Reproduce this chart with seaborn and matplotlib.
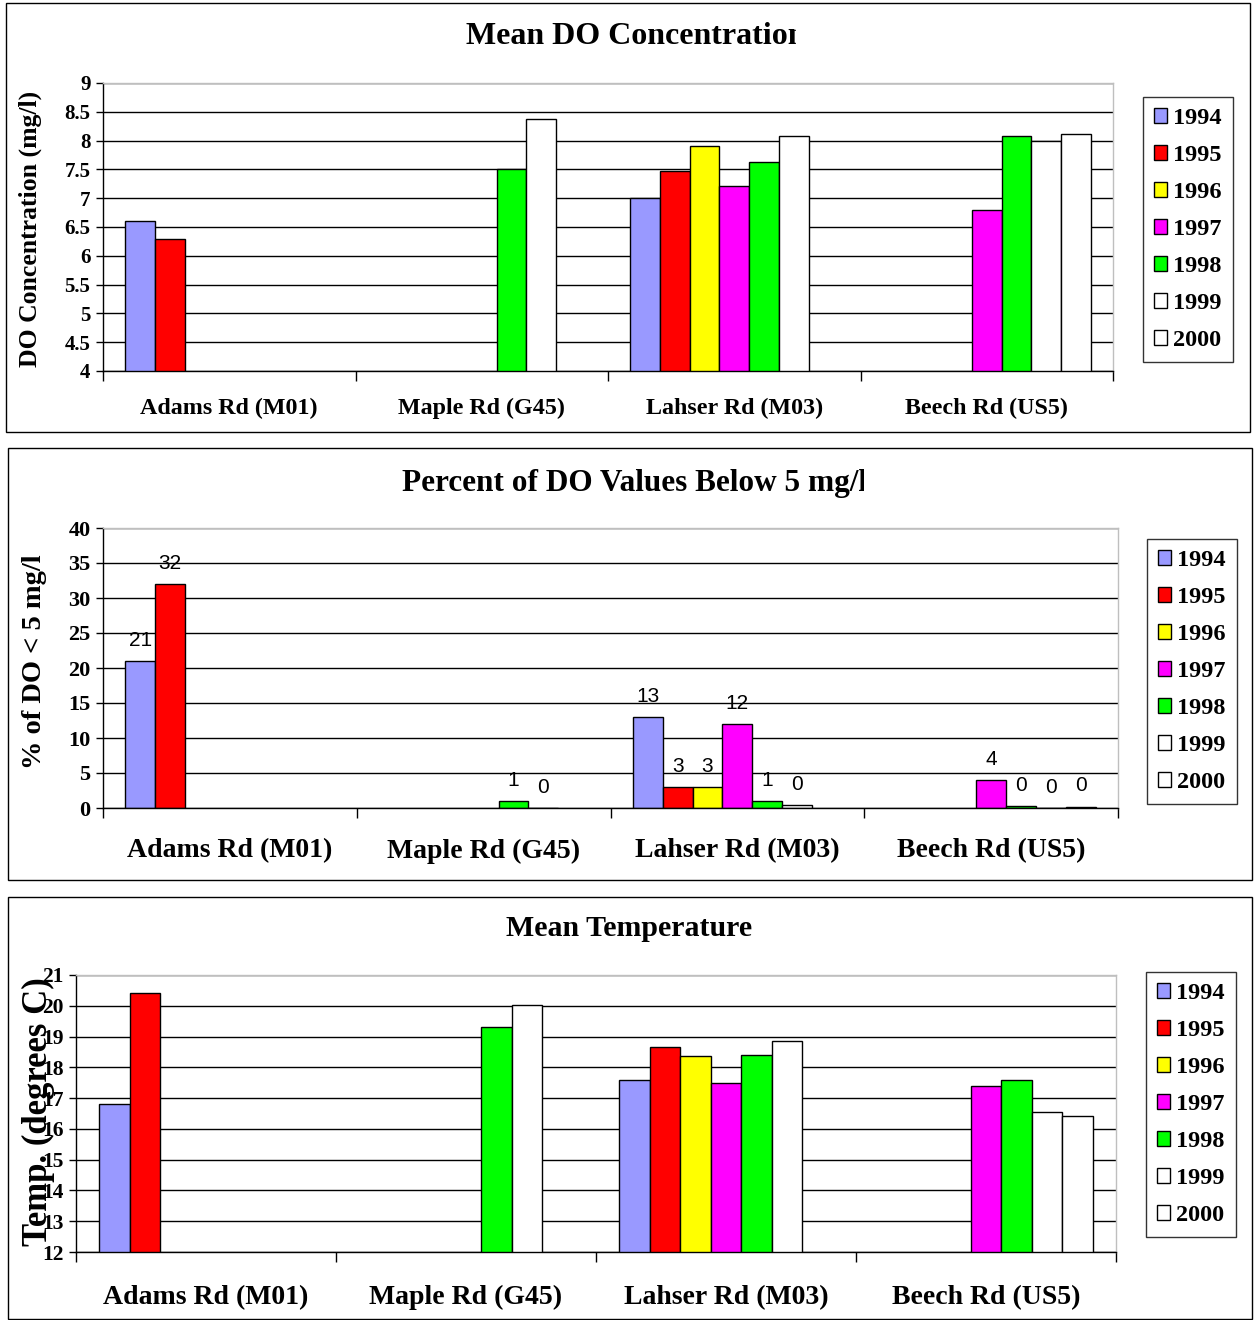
#!/usr/bin/env python3
"""DO / temperature summary by site and year, three stacked bar panels."""
import numpy as np
import pandas as pd
import matplotlib; matplotlib.use("Agg")
import matplotlib.pyplot as plt
from matplotlib.patches import Patch, Rectangle
from matplotlib.transforms import Bbox
import seaborn as sns

sites = ["Adams Rd (M01)", "Maple Rd (G45)", "Lahser Rd (M03)", "Beech Rd (US5)"]
years = ["1994", "1995", "1996", "1997", "1998", "1999", "2000"]
colors = ["#9999FF", "#FF0000", "#FFFF00", "#FF00FF", "#00FF00", "#FFFFFF", "#FFFFFF"]

nan = np.nan
# mean DO (mg/l), values for 1994..2000
do_adams = [6.6, 6.3, nan, nan, nan, nan, nan]
do_maple = [nan, nan, nan, nan, 7.5, 8.37, nan]
do_lahser = [7.0, 7.48, 7.9, 7.22, 7.62, 8.08, nan]
do_beech = [nan, nan, nan, 6.8, 8.08, 8.0, 8.12]

# percent of DO values below 5 mg/l
pct_adams = [21, 32, nan, nan, nan, nan, nan]
pct_maple = [nan, nan, nan, nan, 1, 0, nan]
pct_lahser = [13, 3, 3, 12, 1, 0.4, nan]
pct_beech = [nan, nan, nan, 4, 0.3, 0, 0.2]

# mean temperature (degrees C)
temp_adams = [16.8, 20.4, nan, nan, nan, nan, nan]
temp_maple = [nan, nan, nan, nan, 19.3, 20.03, nan]
temp_lahser = [17.6, 18.65, 18.38, 17.5, 18.4, 18.85, nan]
temp_beech = [nan, nan, nan, 17.38, 17.6, 16.55, 16.42]

W, H = 1255, 1320
plt.rcParams["font.family"] = ["Liberation Serif", "DejaVu Serif"]
plt.rcParams["font.weight"] = "bold"


def long_form(per_site):
    rows = []
    for site, vals in zip(sites, per_site):
        for yr, v in zip(years, vals):
            if not np.isnan(v):
                rows.append({"site": site, "year": yr, "value": v})
    return pd.DataFrame(rows)


def fx(px):
    return px / W


def fy(px):
    return (H - px) / H


def panel(fig, box, per_site, ylim, yticks, tick_fs, xlab_fs, xpad, labels=False):
    l, t, r, b = box
    ax = fig.add_axes([fx(l), fy(b), (r - l) / W, (b - t) / H])
    df = long_form(per_site)
    sns.barplot(data=df, x="site", y="value", hue="year", order=sites, hue_order=years,
                palette=colors, saturation=1, width=7 / 8.5, errorbar=None,
                edgecolor="black", linewidth=1, legend=False, ax=ax)
    ax.set_xlim(-0.5, 3.5)
    ax.set_ylim(*ylim)
    ax.set_yticks(yticks, labels=[f"{v:g}" for v in yticks], fontsize=tick_fs)
    ax.set_xticks([-0.5, 0.5, 1.5, 2.5, 3.5], labels=[])
    ax.set_xticks(range(4), labels=sites, minor=True, fontsize=xlab_fs)
    ax.tick_params(axis="x", which="major", length=7, width=1, direction="out")
    ax.tick_params(axis="x", which="minor", length=0, pad=xpad)
    ax.tick_params(axis="y", length=5, width=1, pad=4)
    ax.set_xlabel("")
    ax.set_ylabel("")
    ax.yaxis.grid(True, color="black", lw=1)
    ax.set_axisbelow(True)
    for s in ["left", "bottom"]:
        ax.spines[s].set_color("black")
        ax.spines[s].set_linewidth(1)
    for s in ["top", "right"]:
        ax.spines[s].set_color("#BFBFBF")
        ax.spines[s].set_linewidth(1)
    if labels:
        for c in ax.containers:
            ax.bar_label(c, fmt="%.0f", padding=8, fontsize=15, fontweight="normal",
                         family="Liberation Sans")
    return ax


def legend(fig, x, y, fs):
    handles = [Patch(facecolor=c, edgecolor="black", lw=1, label=yr) for c, yr in zip(colors, years)]
    leg = fig.legend(handles=handles, loc="upper left", bbox_to_anchor=(fx(x), fy(y)),
                     fontsize=fs, frameon=True, fancybox=False, borderaxespad=0,
                     handlelength=0.55, handleheight=0.55, handletextpad=0.25,
                     labelspacing=0.66, borderpad=0.45)
    leg.get_frame().set_edgecolor("black")
    leg.get_frame().set_linewidth(1)
    return leg


def title(fig, text, x, y, fs, clip_x=None):
    t = fig.text(fx(x), fy(y), text, ha="left", va="center", fontsize=fs, fontweight="bold")
    if clip_x is not None:
        t.set_clip_box(Bbox([[0, 0], [clip_x, H]]))
        t.set_clip_on(True)


fig = plt.figure(figsize=(W / 100, H / 100), dpi=100)

for (x0, y0, x1, y1) in [(6, 3, 1250, 432), (8, 448, 1252, 880), (8, 897, 1252, 1319)]:
    fig.add_artist(Rectangle((fx(x0), fy(y1)), (x1 - x0) / W, (y1 - y0) / H,
                             transform=fig.transFigure, fill=False, edgecolor="black", lw=1))

# panel 1: mean DO
panel(fig, (103, 83, 1113, 371), [do_adams, do_maple, do_lahser, do_beech],
      (4, 9), [4, 4.5, 5, 5.5, 6, 6.5, 7, 7.5, 8, 8.5, 9], 15, 17.3, 19)
title(fig, "Mean DO Concentration", 466, 37, 23, clip_x=796)
fig.text(fx(30), fy(229), "DO Concentration (mg/l)", rotation=90, ha="center", va="center",
         fontsize=18.5, fontweight="bold")
legend(fig, 1143, 97, 17.5)

# panel 2: percent below 5 mg/l
panel(fig, (103, 528, 1118, 808), [pct_adams, pct_maple, pct_lahser, pct_beech],
      (0, 40), [0, 5, 10, 15, 20, 25, 30, 35, 40], 16, 20, 22, labels=True)
title(fig, "Percent of DO Values Below 5 mg/l", 402, 483, 22.5, clip_x=864)
fig.text(fx(35), fy(662), "% of DO < 5 mg/l", rotation=90, ha="center", va="center",
         fontsize=20.5, fontweight="bold")
legend(fig, 1147, 539, 17.5)

# panel 3: mean temperature
panel(fig, (76, 975, 1116, 1252), [temp_adams, temp_maple, temp_lahser, temp_beech],
      (12, 21), list(range(12, 22)), 15.5, 20, 23.5)
title(fig, "Mean Temperature", 506, 929, 21.5)
fig.text(fx(38), fy(1112), "Temp. (degrees C)", rotation=90, ha="center", va="center",
         fontsize=25, fontweight="bold")
legend(fig, 1146, 972, 17.5)

fig.savefig("out.png", dpi=100)
plt.close(fig)
